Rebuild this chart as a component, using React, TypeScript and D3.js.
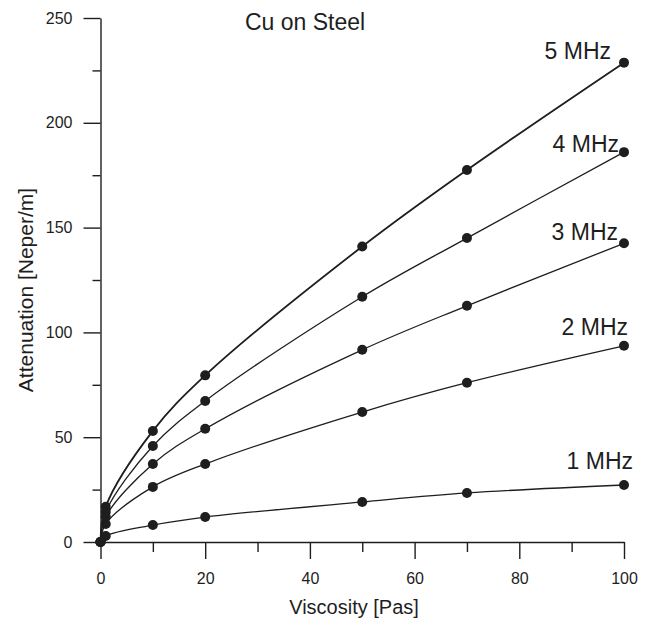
import React, { useEffect, useRef } from 'react';
import * as d3 from 'd3';

// viscosity values (Pas) shared by every series
const viscosity = [0, 1, 10, 20, 50, 70, 100];

// attenuation in Neper/m, one array per frequency
const mhz1 = [0, 2.9, 8.1, 11.9, 19.1, 23.4, 27.2];
const mhz2 = [0, 8.6, 26.3, 37.2, 62, 76, 93.6];
const mhz3 = [0, 12, 37.2, 54, 91.7, 112.7, 142.5];
const mhz4 = [0, 14.3, 45.8, 67.3, 117, 145, 186];
const mhz5 = [0, 16.8, 53, 79.5, 141, 177.5, 228.7];

const seriesNames = ['1 MHz', '2 MHz', '3 MHz', '4 MHz', '5 MHz'];
const xTicks = [0, 20, 40, 60, 80, 100];
const yTicks = [0, 50, 100, 150, 200, 250];

const App = () => {
  const svgRef = useRef(null);

  useEffect(() => {
    const svg = d3.select(svgRef.current);
    svg.selectAll('*').remove();

    const font = '"Liberation Sans", Arial, sans-serif';
    const ink = '#1e1e1e';

    const x = d3.scaleLinear().domain([0, 100]).range([100.5, 624]);
    const y = d3.scaleLinear().domain([0, 250]).range([542, 18]);

    const all = [mhz1, mhz2, mhz3, mhz4, mhz5];
    const series = all.map((vals, i) => ({
      name: seriesNames[i],
      points: vals.map((v, j) => [viscosity[j], v]),
    }));

    // label offsets from the last point (px)
    const labelOffset = [
      [9, -16],
      [4, -11],
      [-6, -3],
      [-5, 0],
      [-13, -4],
    ];

    // y axis: major + minor
    svg.append('g')
      .attr('transform', `translate(${x(0)},0)`)
      .call(d3.axisLeft(y).tickValues(d3.range(25, 250, 50)).tickSize(8).tickFormat(() => '').tickSizeOuter(0))
      .call((g) => g.select('.domain').remove());
    const ya = svg.append('g')
      .attr('transform', `translate(${x(0)},0)`)
      .call(d3.axisLeft(y).tickValues(yTicks).tickSize(17).tickPadding(11).tickSizeOuter(0));

    // x axis: major + minor
    svg.append('g')
      .attr('transform', `translate(0,${y(0)})`)
      .call(d3.axisBottom(x).tickValues(d3.range(10, 100, 20)).tickSize(10).tickFormat(() => '').tickSizeOuter(0))
      .call((g) => g.select('.domain').remove());
    const xa = svg.append('g')
      .attr('transform', `translate(0,${y(0)})`)
      .call(d3.axisBottom(x).tickValues(xTicks).tickSize(17).tickPadding(14).tickSizeOuter(0));

    svg.selectAll('.domain, .tick line').attr('stroke', ink).attr('stroke-width', 1.4);
    [ya, xa].forEach((a) => a.selectAll('text').style('font-family', font).style('font-size', '16px').attr('fill', ink));

    const line = d3.line()
      .x((d) => x(d[0]))
      .y((d) => y(d[1]))
      .curve(d3.curveCatmullRom.alpha(0.5));

    series.forEach((s, i) => {
      svg.append('path')
        .datum(s.points)
        .attr('d', line)
        .attr('fill', 'none')
        .attr('stroke', ink)
        .attr('stroke-width', i === 4 ? 1.8 : 1.3);

      svg.selectAll(null)
        .data(s.points)
        .enter()
        .append('circle')
        .attr('cx', (d) => x(d[0]))
        .attr('cy', (d) => y(d[1]))
        .attr('r', 5)
        .attr('fill', ink);

      const last = s.points[s.points.length - 1];
      svg.append('text')
        .text(s.name)
        .attr('x', x(last[0]) + labelOffset[i][0])
        .attr('y', y(last[1]) + labelOffset[i][1])
        .attr('text-anchor', 'end')
        .style('font-family', font)
        .style('font-size', '23px')
        .attr('fill', ink);
    });

    svg.append('text')
      .text('Cu on Steel')
      .attr('x', 305)
      .attr('y', 30)
      .attr('text-anchor', 'middle')
      .style('font-family', font)
      .style('font-size', '23px')
      .attr('fill', ink);

    svg.append('text')
      .text('Viscosity [Pas]')
      .attr('x', 354)
      .attr('y', 614)
      .attr('text-anchor', 'middle')
      .style('font-family', font)
      .style('font-size', '20px')
      .attr('fill', ink);

    svg.append('text')
      .text('Attenuation [Neper/m]')
      .attr('transform', 'rotate(-90)')
      .attr('x', -290)
      .attr('y', 33)
      .attr('text-anchor', 'middle')
      .style('font-family', font)
      .style('font-size', '21px')
      .attr('fill', ink);
  }, []);

  return (
    <svg
      ref={svgRef}
      width={650}
      height={622}
      style={{ position: 'absolute', left: 0, top: 0, background: '#fff' }}
    />
  );
};

export default App;
